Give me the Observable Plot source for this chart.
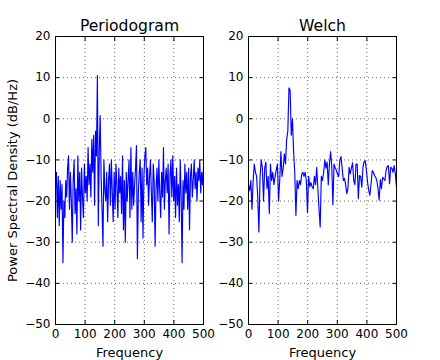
<!DOCTYPE html>
<html><head><meta charset="utf-8">
<script src="https://cdn.jsdelivr.net/npm/d3@7"></script>
<script src="https://cdn.jsdelivr.net/npm/@observablehq/plot@0.6"></script>
<style>
body{margin:0;background:#fff;}
#wrap{position:relative;width:440px;height:360px;display:flex;}
#wrap svg{flex:none;}
</style></head><body><div id="wrap"></div>
<script>
// Periodogram PSD (dB/Hz), evenly spaced from 0 to 500 Hz
const periodogramDb = [
 -17,-13,-24,-14,-26,-15,-22,-16,-35,-20,
 -24,-15,-19,-12,-9,-22,-13,-20,-30,-15,
 -10,-23,-17,-28,-9,-20,-13,-27,-12,-19,
 -24,-11,-18,-14,-20,-7,-16,-11,-19,-5,
 -13,-4,-21,-3,-9,10.5,-26,-8,0.8,-14,
 -22,-31,-10,-17,-20,-13,-25,-15,-11,-21,
 -10,-18,-25,-13,-22,-11,-16,-24,-12,-18,
 -14,-23,-9,-27,-15,-30,-13,-20,-15,-10,
 -24,-7,-22,-13,-21,-16,-12,-6.5,-34,-18,
 -13,-10,-25,-12,-29,-14,-9,-7,-16,-12,
 -21,-14,-10,-18,-25,-11,-15,-31,-17,-12,
 -20,-10,-18,-24,-13,-19,-7,-22,-15,-12,
 -18,-11,-28,-14,-10,-19,-9,-20,-14,-24,
 -12,-21,-16,-25,-10,-19,-35,-15,-22,-11,
 -18,-13,-22,-12,-27,-14,-11,-19,-15,-10,
 -17,-13,-20,-12,-15,-10,-18,-13,-16,-12
];
// Welch PSD (dB/Hz), evenly spaced from 0 to 500 Hz
const welchDb = [
 -16,-17.5,-15,-22,-15,-11,-13,-14,-19,-27.5,
 -14,-10,-12,-20,-12,-10.5,-17,-14,-23,-11,
 -15,-13,-16,-14,-12.5,-11,-20,-15,-8,-14,
 -12,-8.5,-11,-5,-3,7.5,7,-4,0,-8,
 -13,-23.5,-15,-17,
 -15,-16,-13.5,-13,-14,-13,-15,-22.8,-14,-16.5,
 -15.5,-16.5,-17,-14,-16,-11.8,-17,-22,-26.3,-14,
 -15,-13,-10,-12,-10.5,-16,-11,-8,-11.5,-20.9,
 -11,-12,-12.5,-13.5,-14,-10,-9.2,-12,-15,-14.5,
 -16,-18.2,
 -17,-11.8,-13.4,-12,-10.7,-15,-16,-11,-11,-19.4,
 -13.8,-14,-16.6,-11.8,-10.4,-10.2,-12.6,-15.5,-17.4,-18.6,
 -15.8,-12.6,-13,-13.8,-14.2,-15,-17,-19.8,-14.8,-17,
 -14.2,-14.6,-15,-12.5,-11.6,-11.4,-15.8,-11.8,-12,-13,
 -11.4,-13.5,-16.6
];
const xTicks = [0, 100, 200, 300, 400, 500];
const yTicks = [-50, -40, -30, -20, -10, 0, 10, 20];
const titles = ["Periodogram", "Welch"];
const xLabel = "Frequency";
const yLabel = "Power Spectral Density (dB/Hz)";
const fMax = 500;

const fmt = d => d < 0 ? "\u2212" + (-d) : String(d);
const gridStyle = {stroke: "#000", strokeOpacity: 1, strokeWidth: 0.6, strokeDasharray: "1,3"};

function panel(values, title, ml, mr, showYLabel) {
  const n = values.length;
  const data = values.map((v, i) => ({f: i * fMax / (n - 1), db: v}));
  return Plot.plot({
    width: 220, height: 360,
    marginLeft: ml, marginRight: mr, marginTop: 36, marginBottom: 36,
    x: {domain: [0, 500]},
    y: {domain: [-50, 20]},
    style: {fontFamily: "DejaVu Sans", fontSize: "12px", background: "transparent", overflow: "visible", color: "#000"},
    marks: [
      Plot.gridX(xTicks, gridStyle),
      Plot.gridY(yTicks, gridStyle),
      Plot.line(data, {x: "f", y: "db", stroke: "#0000ff", strokeWidth: 1.15}),
      Plot.axisX(xTicks, {anchor: "bottom", tickSize: 0, tickPadding: 5, label: null, tickFormat: fmt, fontSize: 12}),
      Plot.axisX(xTicks, {anchor: "bottom", tickSize: 4, insetBottom: 4, fill: "none", label: null}),
      Plot.axisX(xTicks, {anchor: "top", tickSize: 4, insetTop: 4, fill: "none", label: null}),
      Plot.axisY(yTicks, {anchor: "left", tickSize: 0, tickPadding: 5, label: null, tickFormat: fmt, fontSize: 12}),
      Plot.axisY(yTicks, {anchor: "left", tickSize: 4, insetLeft: 4, fill: "none", label: null}),
      Plot.axisY(yTicks, {anchor: "right", tickSize: 4, insetRight: 4, fill: "none", label: null}),
      Plot.frame({stroke: "#000", strokeWidth: 1}),
      Plot.text([title], {frameAnchor: "top", dy: -11, lineAnchor: "middle", textAnchor: "middle", fontSize: 15.6, text: d => d}),
      Plot.text([xLabel], {frameAnchor: "bottom", dy: 28.5, lineAnchor: "middle", textAnchor: "middle", fontSize: 13, text: d => d}),
      showYLabel ? Plot.text([yLabel], {frameAnchor: "left", dx: -43, rotate: -90, lineAnchor: "middle", textAnchor: "middle", fontSize: 13, text: d => d}) : null
    ]
  });
}

const wrap = document.getElementById("wrap");
wrap.appendChild(panel(periodogramDb, titles[0], 55, 17, true));
wrap.appendChild(panel(welchDb, titles[1], 28, 44, false));
</script>
</body></html>
